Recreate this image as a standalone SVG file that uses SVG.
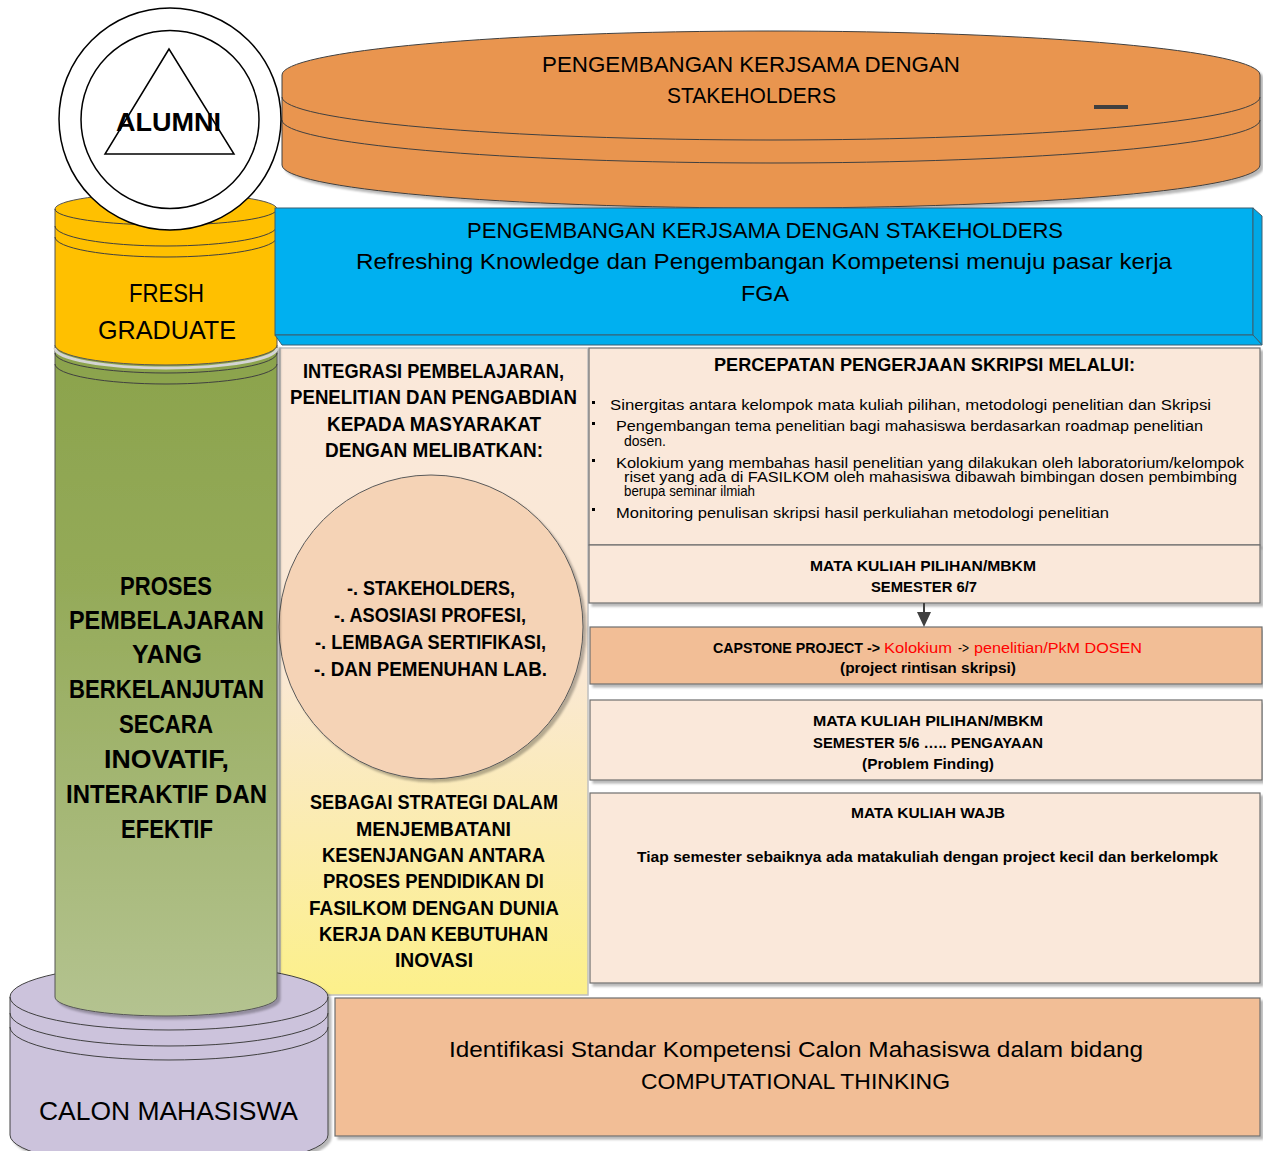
<svg xmlns="http://www.w3.org/2000/svg" width="1263" height="1151" viewBox="0 0 1263 1151">
<defs>
<style>
.t{font-family:"Liberation Sans",Arial,sans-serif;fill:#000}
.b{font-weight:bold}
.ln{fill:none;stroke:#404040;stroke-width:1}
.box{fill:#FAE8DA;stroke:#6E6E6E;stroke-width:1.2}
.org{fill:#F2BE96;stroke:#6E6E6E;stroke-width:1.2}
.red{fill:#FF0000;font-weight:normal}
.bul{fill:#000}
</style>
<linearGradient id="gGreen" x1="0" y1="0" x2="0" y2="1">
<stop offset="0" stop-color="#8BA34C"/>
<stop offset="0.35" stop-color="#94AA58"/>
<stop offset="1" stop-color="#B4C390"/>
</linearGradient>
<linearGradient id="gMid" x1="0" y1="0" x2="0" y2="1">
<stop offset="0" stop-color="#FAE8DA"/>
<stop offset="0.5" stop-color="#FAE8D4"/>
<stop offset="1" stop-color="#FCF08A"/>
</linearGradient>
<filter id="sh" x="-5%" y="-5%" width="110%" height="120%">
<feDropShadow dx="3" dy="3" stdDeviation="1.2" flood-color="#000" flood-opacity="0.28"/>
</filter>
</defs>
<rect x="0" y="0" width="1263" height="1151" fill="#FFFFFF"/>

<g id="kerjasama-disk">
<path d="M282,75 A489,44 0 0 1 1260,75 L1260,165 A489,43 0 0 1 282,165 Z" fill="#E9954F" stroke="#404040" stroke-width="1" filter="url(#sh)"/>
<path class="ln" d="M282,97 A489,43 0 0 0 1260,97"/>
<path class="ln" d="M282,120 A489,43 0 0 0 1260,120"/>
<text class="t" x="542" y="72" font-size="22.5" textLength="418" lengthAdjust="spacingAndGlyphs">PENGEMBANGAN KERJSAMA DENGAN</text>
<text class="t" x="667" y="103" font-size="22.5" textLength="169" lengthAdjust="spacingAndGlyphs">STAKEHOLDERS</text>
<rect x="1094" y="105" width="34" height="4" fill="#404040"/>
</g>

<g id="integrasi">
<rect x="280" y="348" width="308" height="647" fill="url(#gMid)" stroke="#BFBFBF" stroke-width="1.5"/>
<text class="t b" x="303" y="378" font-size="19.5" textLength="261" lengthAdjust="spacingAndGlyphs">INTEGRASI PEMBELAJARAN,</text>
<text class="t b" x="290" y="404" font-size="19.5" textLength="287" lengthAdjust="spacingAndGlyphs">PENELITIAN DAN PENGABDIAN</text>
<text class="t b" x="327" y="431" font-size="19.5" textLength="214" lengthAdjust="spacingAndGlyphs">KEPADA MASYARAKAT</text>
<text class="t b" x="325" y="457" font-size="19.5" textLength="218" lengthAdjust="spacingAndGlyphs">DENGAN MELIBATKAN:</text>
<ellipse cx="431" cy="627" rx="152" ry="152" fill="#F5D3B6" stroke="#595959" stroke-width="1" filter="url(#sh)"/>
<text class="t b" x="347" y="595" font-size="19.5" textLength="168" lengthAdjust="spacingAndGlyphs">-. STAKEHOLDERS,</text>
<text class="t b" x="334" y="622" font-size="19.5" textLength="192" lengthAdjust="spacingAndGlyphs">-. ASOSIASI PROFESI,</text>
<text class="t b" x="315" y="649" font-size="19.5" textLength="231" lengthAdjust="spacingAndGlyphs">-.  LEMBAGA  SERTIFIKASI,</text>
<text class="t b" x="314" y="676" font-size="19.5" textLength="233" lengthAdjust="spacingAndGlyphs">-. DAN PEMENUHAN LAB.</text>
<text class="t b" x="310" y="809" font-size="19.5" textLength="248" lengthAdjust="spacingAndGlyphs">SEBAGAI STRATEGI DALAM</text>
<text class="t b" x="356" y="836" font-size="19.5" textLength="155" lengthAdjust="spacingAndGlyphs">MENJEMBATANI</text>
<text class="t b" x="322" y="862" font-size="19.5" textLength="223" lengthAdjust="spacingAndGlyphs">KESENJANGAN ANTARA</text>
<text class="t b" x="323" y="888" font-size="19.5" textLength="221" lengthAdjust="spacingAndGlyphs">PROSES PENDIDIKAN DI</text>
<text class="t b" x="309" y="915" font-size="19.5" textLength="250" lengthAdjust="spacingAndGlyphs">FASILKOM DENGAN DUNIA</text>
<text class="t b" x="319" y="941" font-size="19.5" textLength="229" lengthAdjust="spacingAndGlyphs">KERJA DAN KEBUTUHAN</text>
<text class="t b" x="395" y="967" font-size="19.5" textLength="78" lengthAdjust="spacingAndGlyphs">INOVASI</text>
</g>

<g id="percepatan">
<rect class="box" x="589" y="348" width="671" height="197" filter="url(#sh)"/>
<text class="t b" x="714" y="371" font-size="19" textLength="421" lengthAdjust="spacingAndGlyphs">PERCEPATAN PENGERJAAN SKRIPSI MELALUI:</text>
<rect class="bul" x="592" y="401" width="3" height="3"/>
<rect class="bul" x="592" y="422" width="3" height="3"/>
<rect class="bul" x="592" y="459" width="3" height="3"/>
<rect class="bul" x="592" y="508" width="3" height="3"/>
<text class="t" x="610" y="410" font-size="14.5" textLength="601" lengthAdjust="spacingAndGlyphs">Sinergitas antara  kelompok mata kuliah pilihan, metodologi penelitian dan Skripsi</text>
<text class="t" x="616" y="431" font-size="14.5" textLength="587" lengthAdjust="spacingAndGlyphs">Pengembangan  tema  penelitian  bagi  mahasiswa  berdasarkan  roadmap  penelitian</text>
<text class="t" x="624" y="446" font-size="14.5" textLength="42" lengthAdjust="spacingAndGlyphs">dosen.</text>
<text class="t" x="616" y="468" font-size="14.5" textLength="628" lengthAdjust="spacingAndGlyphs">Kolokium  yang  membahas  hasil  penelitian  yang  dilakukan  oleh  laboratorium/kelompok</text>
<text class="t" x="624" y="482" font-size="14.5" textLength="613" lengthAdjust="spacingAndGlyphs">riset yang ada di FASILKOM oleh mahasiswa dibawah bimbingan dosen pembimbing</text>
<text class="t" x="624" y="496" font-size="14.5" textLength="131" lengthAdjust="spacingAndGlyphs">berupa seminar ilmiah</text>
<text class="t" x="616" y="518" font-size="14.5" textLength="493" lengthAdjust="spacingAndGlyphs">Monitoring  penulisan  skripsi  hasil  perkuliahan  metodologi  penelitian</text>
</g>

<g id="mk-pilihan-67">
<rect class="box" x="589" y="545" width="671" height="58" filter="url(#sh)"/>
<text class="t b" x="810" y="571" font-size="14.5" textLength="226" lengthAdjust="spacingAndGlyphs">MATA KULIAH PILIHAN/MBKM</text>
<text class="t b" x="871" y="592" font-size="14.5" textLength="106" lengthAdjust="spacingAndGlyphs">SEMESTER 6/7</text>
</g>

<g id="capstone">
<rect class="org" x="590" y="627" width="672" height="57" filter="url(#sh)"/>
<text class="t b" y="653" font-size="14.5"><tspan x="713" textLength="167" lengthAdjust="spacingAndGlyphs">CAPSTONE PROJECT -&gt;</tspan><tspan class="red" x="884" textLength="68" lengthAdjust="spacingAndGlyphs">Kolokium</tspan><tspan x="958" font-weight="normal" textLength="11" lengthAdjust="spacingAndGlyphs">-&gt;</tspan><tspan class="red" x="974" textLength="168" lengthAdjust="spacingAndGlyphs">penelitian/PkM DOSEN</tspan></text>
<text class="t b" x="840" y="673" font-size="14.5" textLength="176" lengthAdjust="spacingAndGlyphs">(project rintisan skripsi)</text>
</g>

<g id="mk-pilihan-56">
<rect class="box" x="590" y="700" width="672" height="80" filter="url(#sh)"/>
<text class="t b" x="813" y="726" font-size="14.5" textLength="230" lengthAdjust="spacingAndGlyphs">MATA KULIAH PILIHAN/MBKM</text>
<text class="t b" x="813" y="748" font-size="14.5" textLength="230" lengthAdjust="spacingAndGlyphs">SEMESTER 5/6 ….. PENGAYAAN</text>
<text class="t b" x="862" y="769" font-size="14.5" textLength="132" lengthAdjust="spacingAndGlyphs">(Problem Finding)</text>
</g>

<g id="mk-wajib">
<rect class="box" x="590" y="793" width="670" height="190" filter="url(#sh)"/>
<text class="t b" x="851" y="818" font-size="14.5" textLength="154" lengthAdjust="spacingAndGlyphs">MATA KULIAH WAJB</text>
<text class="t b" x="637" y="862" font-size="15.5" textLength="581" lengthAdjust="spacingAndGlyphs">Tiap semester sebaiknya ada matakuliah dengan project kecil dan berkelompk</text>
</g>

<g id="identifikasi">
<rect class="org" x="335" y="998" width="925" height="138" filter="url(#sh)"/>
<text class="t" x="449" y="1057" font-size="22.5" textLength="694" lengthAdjust="spacingAndGlyphs">Identifikasi Standar Kompetensi Calon Mahasiswa dalam bidang</text>
<text class="t" x="641" y="1089" font-size="22.5" textLength="309" lengthAdjust="spacingAndGlyphs">COMPUTATIONAL THINKING</text>
</g>

<g id="calon-mahasiswa">
<path d="M10,997 A159,33 0 0 1 328,997 L328,1135 A159,33 0 0 1 10,1135 Z" fill="#CCC3DC" stroke="#404040" stroke-width="1" filter="url(#sh)"/>
<path class="ln" d="M10,997 A159,33 0 0 0 328,997"/>
<path class="ln" d="M10,1013 A159,33 0 0 0 328,1013"/>
<path class="ln" d="M10,1027 A159,33 0 0 0 328,1027"/>
<text class="t" x="39" y="1120" font-size="25" textLength="259" lengthAdjust="spacingAndGlyphs">CALON  MAHASISWA</text>
</g>

<g id="proses">
<path d="M55,345 L55,997 A111,19 0 0 0 277,997 L277,345 Z" fill="url(#gGreen)" stroke="#555555" stroke-width="1" filter="url(#sh)"/>
<path d="M55,348 A111,20 0 0 0 277,348" fill="none" stroke="#D4D4D4" stroke-width="3"/>
<path class="ln" d="M55,353 A111,20 0 0 0 277,353"/>
<path class="ln" d="M55,364 A111,20 0 0 0 277,364"/>
<text class="t b" x="120" y="595" font-size="25.5" textLength="92" lengthAdjust="spacingAndGlyphs">PROSES</text>
<text class="t b" x="69" y="629" font-size="25.5" textLength="195" lengthAdjust="spacingAndGlyphs">PEMBELAJARAN</text>
<text class="t b" x="132" y="663" font-size="25.5" textLength="70" lengthAdjust="spacingAndGlyphs">YANG</text>
<text class="t b" x="69" y="698" font-size="25.5" textLength="195" lengthAdjust="spacingAndGlyphs">BERKELANJUTAN</text>
<text class="t b" x="119" y="733" font-size="25.5" textLength="94" lengthAdjust="spacingAndGlyphs">SECARA</text>
<text class="t b" x="104" y="768" font-size="25.5" textLength="125" lengthAdjust="spacingAndGlyphs">INOVATIF,</text>
<text class="t b" x="66" y="803" font-size="25.5" textLength="201" lengthAdjust="spacingAndGlyphs">INTERAKTIF DAN</text>
<text class="t b" x="121" y="838" font-size="25.5" textLength="92" lengthAdjust="spacingAndGlyphs">EFEKTIF</text>
</g>

<g id="fresh-graduate">
<path d="M55,209 A111,16 0 0 1 277,209 L277,345 A111,20 0 0 1 55,345 Z" fill="#FFC000" stroke="#555555" stroke-width="1"/>
<path class="ln" d="M55,209 A111,16 0 0 0 277,209"/>
<path class="ln" d="M55,226 A111,20 0 0 0 277,226"/>
<path class="ln" d="M55,237 A111,20 0 0 0 277,237"/>
<text class="t" x="129" y="302" font-size="25" textLength="75" lengthAdjust="spacingAndGlyphs">FRESH</text>
<text class="t" x="98" y="339" font-size="25" textLength="138" lengthAdjust="spacingAndGlyphs">GRADUATE</text>
</g>

<g id="stakeholders-fga">
<rect x="275" y="208" width="978" height="127" fill="#00B0F0" stroke="#3A5F70" stroke-width="1"/>
<polygon points="1253,208 1262,216 1262,345 1253,335" fill="#00A8E6" stroke="#3A5F70" stroke-width="1"/>
<polygon points="275,335 1253,335 1262,345 282,345" fill="#00ACEB" stroke="#3A5F70" stroke-width="1"/>
<text class="t" x="467" y="238" font-size="22.5" textLength="596" lengthAdjust="spacingAndGlyphs">PENGEMBANGAN KERJSAMA DENGAN STAKEHOLDERS</text>
<text class="t" x="356" y="269" font-size="22.5" textLength="816" lengthAdjust="spacingAndGlyphs">Refreshing Knowledge dan Pengembangan Kompetensi menuju pasar kerja</text>
<text class="t" x="741" y="301" font-size="22.5" textLength="48" lengthAdjust="spacingAndGlyphs">FGA</text>
</g>

<g id="alumni">
<circle cx="170" cy="119" r="111" fill="#FFFFFF" stroke="#000" stroke-width="1.5"/>
<circle cx="170" cy="119.5" r="89" fill="#FFFFFF" stroke="#000" stroke-width="1.5"/>
<polygon points="169,49 105,154 234,154" fill="none" stroke="#000" stroke-width="1.5"/>
<text class="t b" x="116" y="131" font-size="26" textLength="105" lengthAdjust="spacingAndGlyphs">ALUMNI</text>
</g>

<g id="connectors">
<line x1="924" y1="603" x2="924" y2="614" stroke="#404040" stroke-width="2"/>
<polygon points="917,612 931,612 924,627" fill="#404040"/>
</g>
</svg>
